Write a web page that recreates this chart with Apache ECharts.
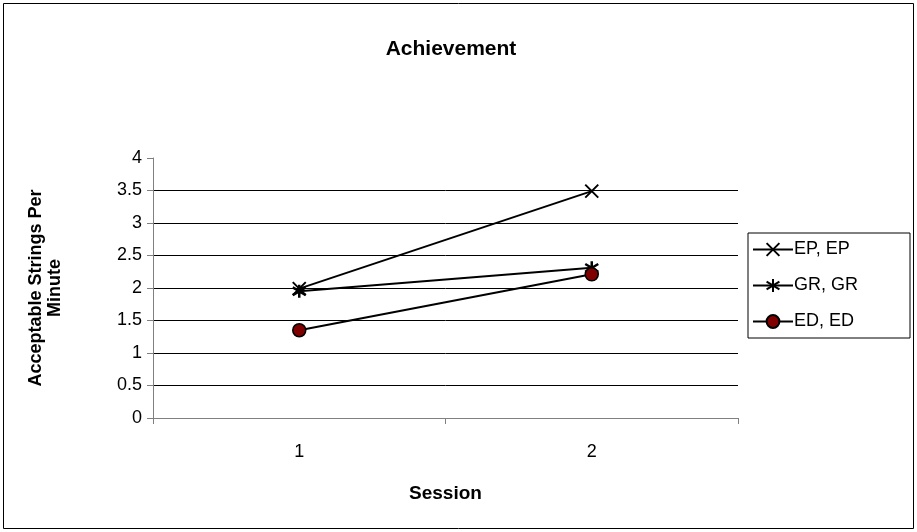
<!DOCTYPE html>
<html><head><meta charset="utf-8">
<script src="https://cdn.jsdelivr.net/npm/echarts@6/dist/echarts.min.js"></script>
<style>html,body{margin:0;padding:0;background:#fff}#c{width:917px;height:532px}</style>
</head><body><div id="c"></div>
<script>
const categories = ['1', '2'];
const seriesNames = ['EP, EP', 'GR, GR', 'ED, ED'];
const epValues = [1.99, 3.49];
const grValues = [1.95, 2.31];
const edValues = [1.35, 2.21];
const yTicks = [0, 0.5, 1, 1.5, 2, 2.5, 3, 3.5, 4];

const xPath = 'path://M0,0L10,10M10,0L0,10';
const starPath = 'path://M5,0L5,10M0,2L10,8M10,2L0,8';
const F = 'Liberation Sans, Arial, sans-serif';

const chart = echarts.init(document.getElementById('c'));
chart.setOption({
  animation: false,
  backgroundColor: '#fff',
  title: {text: 'Achievement', left: 446, textAlign: 'center', top: 34,
    textStyle: {fontFamily: F, fontSize: 21, fontWeight: 'bold', color: '#000'}},
  grid: {left: 153, right: 179, top: 158, bottom: 114},
  legend: {
    left: 748, top: 233, orient: 'vertical',
    padding: [6, 52, 6, 4], itemGap: 15, itemWidth: 40, itemHeight: 16,
    borderColor: '#000', borderWidth: 1,
    textStyle: {fontFamily: F, fontSize: 18, lineHeight: 21, color: '#000', padding: [0, 0, 0, -4]},
    data: seriesNames
  },
  xAxis: {
    type: 'category', data: categories, boundaryGap: true,
    name: 'Session', nameLocation: 'middle', nameGap: 66,
    nameTextStyle: {fontFamily: F, fontSize: 19, fontWeight: 'bold', color: '#000'},
    axisLine: {lineStyle: {color: '#808080', width: 1}},
    axisTick: {show: true, length: 6, lineStyle: {color: '#808080'}},
    axisLabel: {fontFamily: F, fontSize: 18, color: '#000', margin: 25},
    splitLine: {show: false}
  },
  yAxis: {
    type: 'value', min: 0, max: 4, interval: 0.5,
    name: 'Acceptable Strings Per\nMinute', nameLocation: 'middle', nameGap: 88,
    nameTextStyle: {fontFamily: F, fontSize: 18, fontWeight: 'bold', color: '#000', lineHeight: 19, align: 'center'},
    axisLine: {show: true, lineStyle: {color: '#808080', width: 1}},
    axisTick: {show: true, length: 6, lineStyle: {color: '#808080'}},
    axisLabel: {fontFamily: F, fontSize: 18, color: '#000', margin: 11,
      formatter: v => String(v)},
    splitLine: {show: true, lineStyle: {width: 1,
      color: ['#000', '#000', '#000', '#000', '#000', '#000', '#000', '#000', 'rgba(0,0,0,0)']}}
  },
  series: [
    {name: seriesNames[0], type: 'line', data: epValues, symbol: xPath, symbolSize: 13,
      lineStyle: {color: '#000', width: 2}, itemStyle: {color: '#000', borderColor: '#000', borderWidth: 2}, z: 3},
    {name: seriesNames[1], type: 'line', data: grValues, symbol: starPath, symbolSize: 13,
      lineStyle: {color: '#000', width: 2}, itemStyle: {color: '#000', borderColor: '#000', borderWidth: 2.5}, z: 3},
    {name: seriesNames[2], type: 'line', data: edValues, symbol: 'circle', symbolSize: 13,
      lineStyle: {color: '#000', width: 2}, itemStyle: {color: '#800000', borderColor: '#000', borderWidth: 1.5}, z: 3}
  ],
  graphic: [{type: 'rect', shape: {x: 3.5, y: 3.5, width: 910, height: 525},
    style: {fill: 'none', stroke: '#000', lineWidth: 1}, silent: true, z: -1}]
});
</script></body></html>
